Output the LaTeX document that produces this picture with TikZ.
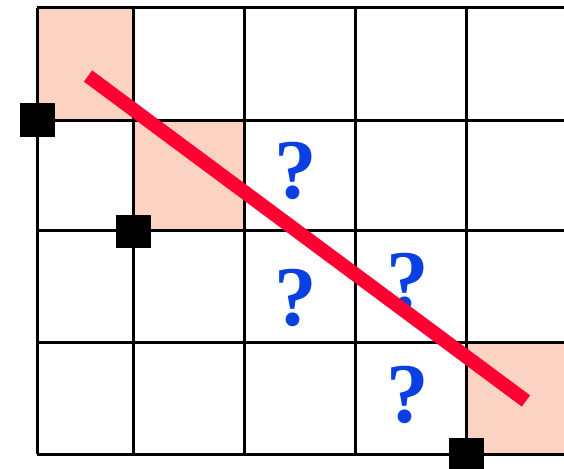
\documentclass[tikz,border=0pt]{standalone}
\usepackage{fontspec}
\setmainfont{Liberation Serif}
\definecolor{pinkcell}{HTML}{FCD3C3}
\definecolor{redline}{HTML}{FF0033}
\definecolor{qblue}{HTML}{0A3FE0}
\tikzset{
  cell/.style={fill=pinkcell, draw=none},
  gridline/.style={line width=3pt, black},
  corner/.style={fill=black, minimum width=35pt, minimum height=33pt, inner sep=0pt, draw=none},
  qmark/.style={text=qblue, font=\bfseries\fontsize{85}{85}\selectfont, inner sep=0pt},
  diag/.style={redline, line width=14pt, line cap=butt}
}
\begin{document}
\begin{tikzpicture}[x=1pt,y=-1pt]
\useasboundingbox (0,0) rectangle (564,468);
\clip (0,0) rectangle (564,468);
% shaded cells
\fill[cell] (37,8) rectangle (133,120);
\fill[cell] (133,120) rectangle (244,230);
\fill[cell] (466,342) rectangle (580,454);
% grid
\foreach \x in {37,133,244,355,466}
  \draw[gridline] (\x,8) -- (\x,454);
\foreach \y in {8,120,230,342,454}
  \draw[gridline] (37,\y) -- (580,\y);
% question marks
\node[qmark] (q1) at (296,171) {?};
\node[qmark] (q2) at (296,298) {?};
\node[qmark] (q3) at (408,282) {?};
\node[qmark] (q4) at (408,395) {?};
% diagonal line
\coordinate (start) at (88,76);
\coordinate (end) at (526,401);
\draw[diag] (start) -- (end);
% corner markers
\node[corner] (c1) at (37,120) {};
\node[corner] (c2) at (133,231) {};
\node[corner] (c3) at (466,454) {};
\end{tikzpicture}
\end{document}
